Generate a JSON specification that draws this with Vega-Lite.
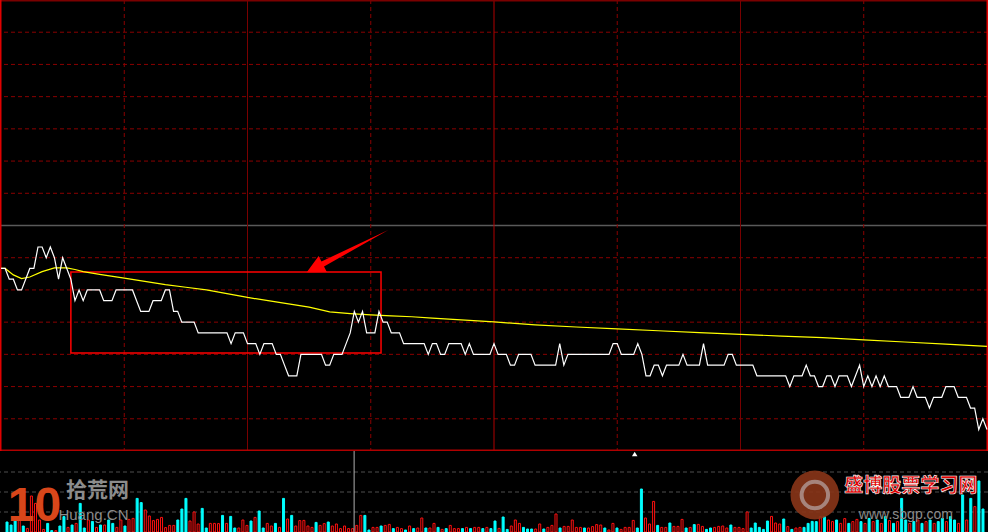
{
  "$schema": "https://vega.github.io/schema/vega-lite/v6.json",
  "background": "#000000",
  "padding": 0,
  "spacing": 0,
  "config": {"view": {"stroke": null}},
  "datasets": {
    "mins": [
      {"m":0,"p":9.96,"v":500,"s":"down"},{"m":1,"p":9.96,"v":350,"s":"down"},{"m":2,"p":9.95,"v":600,"s":"down"},{"m":3,"p":9.95,"v":680,"s":"up"},{"m":4,"p":9.94,"v":300,"s":"down"},
      {"m":5,"p":9.94,"v":180,"s":"up"},{"m":6,"p":9.95,"v":1800,"s":"up"},{"m":7,"p":9.96,"v":1430,"s":"up"},{"m":8,"p":9.96,"v":600,"s":"up"},{"m":9,"p":9.98,"v":130,"s":"up"},
      {"m":10,"p":9.98,"v":430,"s":"down"},{"m":11,"p":9.97,"v":70,"s":"down"},{"m":12,"p":9.98,"v":70,"s":"up"},{"m":13,"p":9.97,"v":300,"s":"down"},{"m":14,"p":9.95,"v":770,"s":"down"},
      {"m":15,"p":9.97,"v":230,"s":"up"},{"m":16,"p":9.96,"v":350,"s":"down"},{"m":17,"p":9.95,"v":430,"s":"up"},{"m":18,"p":9.93,"v":1430,"s":"down"},{"m":19,"p":9.94,"v":200,"s":"down"},
      {"m":20,"p":9.93,"v":600,"s":"up"},{"m":21,"p":9.94,"v":530,"s":"down"},{"m":22,"p":9.94,"v":230,"s":"up"},{"m":23,"p":9.94,"v":350,"s":"down"},{"m":24,"p":9.94,"v":350,"s":"up"},
      {"m":25,"p":9.93,"v":600,"s":"down"},{"m":26,"p":9.93,"v":430,"s":"down"},{"m":27,"p":9.93,"v":230,"s":"up"},{"m":28,"p":9.94,"v":600,"s":"up"},{"m":29,"p":9.94,"v":300,"s":"down"},
      {"m":30,"p":9.94,"v":630,"s":"up"},{"m":31,"p":9.94,"v":680,"s":"up"},{"m":32,"p":9.94,"v":1680,"s":"down"},{"m":33,"p":9.93,"v":1470,"s":"down"},{"m":34,"p":9.92,"v":1100,"s":"up"},
      {"m":35,"p":9.92,"v":800,"s":"up"},{"m":36,"p":9.92,"v":570,"s":"up"},{"m":37,"p":9.93,"v":630,"s":"up"},{"m":38,"p":9.93,"v":730,"s":"up"},{"m":39,"p":9.93,"v":220,"s":"up"},
      {"m":40,"p":9.94,"v":330,"s":"up"},{"m":41,"p":9.94,"v":330,"s":"up"},{"m":42,"p":9.92,"v":600,"s":"down"},{"m":43,"p":9.92,"v":1150,"s":"down"},{"m":44,"p":9.91,"v":1680,"s":"down"},
      {"m":45,"p":9.91,"v":550,"s":"up"},{"m":46,"p":9.91,"v":1000,"s":"up"},{"m":47,"p":9.91,"v":400,"s":"up"},{"m":48,"p":9.90,"v":1180,"s":"down"},{"m":49,"p":9.90,"v":200,"s":"down"},
      {"m":50,"p":9.90,"v":430,"s":"up"},{"m":51,"p":9.90,"v":430,"s":"up"},{"m":52,"p":9.90,"v":420,"s":"up"},{"m":53,"p":9.90,"v":830,"s":"down"},{"m":54,"p":9.90,"v":430,"s":"up"},
      {"m":55,"p":9.90,"v":780,"s":"down"},{"m":56,"p":9.89,"v":200,"s":"down"},{"m":57,"p":9.90,"v":200,"s":"up"},{"m":58,"p":9.90,"v":600,"s":"up"},{"m":59,"p":9.90,"v":330,"s":"up"},
      {"m":60,"p":9.89,"v":550,"s":"down"},{"m":61,"p":9.89,"v":730,"s":"up"},{"m":62,"p":9.89,"v":1050,"s":"down"},{"m":63,"p":9.88,"v":200,"s":"down"},{"m":64,"p":9.89,"v":430,"s":"up"},
      {"m":65,"p":9.89,"v":300,"s":"up"},{"m":66,"p":9.89,"v":430,"s":"down"},{"m":67,"p":9.88,"v":230,"s":"up"},{"m":68,"p":9.88,"v":1680,"s":"down"},{"m":69,"p":9.87,"v":650,"s":"up"},
      {"m":70,"p":9.86,"v":830,"s":"down"},{"m":71,"p":9.86,"v":300,"s":"up"},{"m":72,"p":9.86,"v":570,"s":"up"},{"m":73,"p":9.88,"v":580,"s":"up"},{"m":74,"p":9.88,"v":300,"s":"up"},
      {"m":75,"p":9.88,"v":230,"s":"up"},{"m":76,"p":9.88,"v":480,"s":"down"},{"m":77,"p":9.88,"v":330,"s":"up"},{"m":78,"p":9.88,"v":420,"s":"up"},{"m":79,"p":9.87,"v":500,"s":"down"},
      {"m":80,"p":9.87,"v":300,"s":"up"},{"m":81,"p":9.88,"v":400,"s":"up"},{"m":82,"p":9.88,"v":170,"s":"up"},{"m":83,"p":9.88,"v":300,"s":"up"},{"m":84,"p":9.89,"v":170,"s":"up"},
      {"m":85,"p":9.90,"v":170,"s":"up"},{"m":86,"p":9.92,"v":330,"s":"up"},{"m":87,"p":9.91,"v":830,"s":"up"},{"m":88,"p":9.92,"v":830,"s":"down"},{"m":89,"p":9.90,"v":100,"s":"down"},
      {"m":90,"p":9.90,"v":230,"s":"up"},{"m":91,"p":9.90,"v":230,"s":"up"},{"m":92,"p":9.92,"v":300,"s":"down"},{"m":93,"p":9.91,"v":330,"s":"up"},{"m":94,"p":9.91,"v":380,"s":"up"},
      {"m":95,"p":9.90,"v":170,"s":"down"},{"m":96,"p":9.90,"v":230,"s":"up"},{"m":97,"p":9.90,"v":170,"s":"up"},{"m":98,"p":9.89,"v":100,"s":"down"},{"m":99,"p":9.89,"v":300,"s":"up"},
      {"m":100,"p":9.89,"v":170,"s":"down"},{"m":101,"p":9.89,"v":200,"s":"up"},{"m":102,"p":9.89,"v":700,"s":"up"},{"m":103,"p":9.89,"v":200,"s":"down"},{"m":104,"p":9.88,"v":200,"s":"up"},
      {"m":105,"p":9.89,"v":430,"s":"up"},{"m":106,"p":9.89,"v":230,"s":"down"},{"m":107,"p":9.88,"v":130,"s":"up"},{"m":108,"p":9.88,"v":170,"s":"down"},{"m":109,"p":9.89,"v":330,"s":"up"},
      {"m":110,"p":9.89,"v":170,"s":"up"},{"m":111,"p":9.89,"v":170,"s":"up"},{"m":112,"p":9.89,"v":170,"s":"down"},{"m":113,"p":9.88,"v":230,"s":"up"},{"m":114,"p":9.89,"v":170,"s":"down"},
      {"m":115,"p":9.88,"v":230,"s":"up"},{"m":116,"p":9.88,"v":230,"s":"up"},{"m":117,"p":9.88,"v":170,"s":"down"},{"m":118,"p":9.88,"v":230,"s":"up"},{"m":119,"p":9.88,"v":170,"s":"down"},
      {"m":120,"p":9.89,"v":550,"s":"down"},{"m":121,"p":9.88,"v":180,"s":"up"},{"m":122,"p":9.88,"v":750,"s":"down"},{"m":123,"p":9.88,"v":130,"s":"down"},{"m":124,"p":9.87,"v":300,"s":"up"},
      {"m":125,"p":9.87,"v":600,"s":"up"},{"m":126,"p":9.88,"v":430,"s":"up"},{"m":127,"p":9.88,"v":230,"s":"down"},{"m":128,"p":9.88,"v":150,"s":"down"},{"m":129,"p":9.88,"v":150,"s":"down"},
      {"m":130,"p":9.87,"v":150,"s":"up"},{"m":131,"p":9.87,"v":400,"s":"up"},{"m":132,"p":9.87,"v":150,"s":"down"},{"m":133,"p":9.87,"v":230,"s":"up"},{"m":134,"p":9.87,"v":330,"s":"up"},
      {"m":135,"p":9.87,"v":900,"s":"up"},{"m":136,"p":9.89,"v":200,"s":"down"},{"m":137,"p":9.87,"v":280,"s":"up"},{"m":138,"p":9.88,"v":280,"s":"up"},{"m":139,"p":9.88,"v":600,"s":"up"},
      {"m":140,"p":9.88,"v":230,"s":"up"},{"m":141,"p":9.88,"v":230,"s":"up"},{"m":142,"p":9.88,"v":200,"s":"down"},{"m":143,"p":9.88,"v":200,"s":"up"},{"m":144,"p":9.88,"v":270,"s":"up"},
      {"m":145,"p":9.88,"v":370,"s":"up"},{"m":146,"p":9.88,"v":350,"s":"up"},{"m":147,"p":9.88,"v":200,"s":"down"},{"m":148,"p":9.88,"v":100,"s":"up"},{"m":149,"p":9.89,"v":430,"s":"up"},
      {"m":150,"p":9.89,"v":200,"s":"down"},{"m":151,"p":9.88,"v":130,"s":"up"},{"m":152,"p":9.88,"v":230,"s":"up"},{"m":153,"p":9.88,"v":230,"s":"up"},{"m":154,"p":9.88,"v":580,"s":"up"},
      {"m":155,"p":9.89,"v":200,"s":"down"},{"m":156,"p":9.88,"v":2150,"s":"down"},{"m":157,"p":9.86,"v":700,"s":"up"},{"m":158,"p":9.86,"v":400,"s":"up"},{"m":159,"p":9.87,"v":1530,"s":"up"},
      {"m":160,"p":9.87,"v":330,"s":"down"},{"m":161,"p":9.86,"v":230,"s":"up"},{"m":162,"p":9.87,"v":230,"s":"up"},{"m":163,"p":9.87,"v":450,"s":"down"},{"m":164,"p":9.87,"v":280,"s":"up"},
      {"m":165,"p":9.87,"v":280,"s":"up"},{"m":166,"p":9.88,"v":630,"s":"up"},{"m":167,"p":9.87,"v":200,"s":"down"},{"m":168,"p":9.87,"v":230,"s":"up"},{"m":169,"p":9.87,"v":370,"s":"down"},
      {"m":170,"p":9.87,"v":380,"s":"up"},{"m":171,"p":9.89,"v":280,"s":"up"},{"m":172,"p":9.87,"v":130,"s":"down"},{"m":173,"p":9.87,"v":200,"s":"down"},{"m":174,"p":9.87,"v":230,"s":"up"},
      {"m":175,"p":9.87,"v":280,"s":"up"},{"m":176,"p":9.87,"v":300,"s":"up"},{"m":177,"p":9.88,"v":200,"s":"up"},{"m":178,"p":9.88,"v":350,"s":"down"},{"m":179,"p":9.87,"v":230,"s":"up"},
      {"m":180,"p":9.87,"v":230,"s":"up"},{"m":181,"p":9.87,"v":170,"s":"up"},{"m":182,"p":9.87,"v":1000,"s":"up"},{"m":183,"p":9.87,"v":200,"s":"down"},{"m":184,"p":9.86,"v":450,"s":"down"},
      {"m":185,"p":9.86,"v":230,"s":"down"},{"m":186,"p":9.86,"v":130,"s":"down"},{"m":187,"p":9.86,"v":550,"s":"down"},{"m":188,"p":9.86,"v":780,"s":"up"},{"m":189,"p":9.86,"v":450,"s":"up"},
      {"m":190,"p":9.86,"v":400,"s":"up"},{"m":191,"p":9.86,"v":650,"s":"down"},{"m":192,"p":9.85,"v":270,"s":"up"},{"m":193,"p":9.86,"v":130,"s":"down"},{"m":194,"p":9.86,"v":200,"s":"up"},
      {"m":195,"p":9.86,"v":230,"s":"up"},{"m":196,"p":9.87,"v":230,"s":"down"},{"m":197,"p":9.86,"v":430,"s":"down"},{"m":198,"p":9.86,"v":530,"s":"down"},{"m":199,"p":9.85,"v":520,"s":"down"},
      {"m":200,"p":9.85,"v":770,"s":"up"},{"m":201,"p":9.86,"v":770,"s":"down"},{"m":202,"p":9.86,"v":600,"s":"up"},{"m":203,"p":9.85,"v":520,"s":"up"},{"m":204,"p":9.86,"v":600,"s":"down"},
      {"m":205,"p":9.86,"v":430,"s":"up"},{"m":206,"p":9.86,"v":670,"s":"up"},{"m":207,"p":9.85,"v":430,"s":"down"},{"m":208,"p":9.86,"v":520,"s":"up"},{"m":209,"p":9.87,"v":630,"s":"up"},
      {"m":210,"p":9.85,"v":520,"s":"down"},{"m":211,"p":9.86,"v":430,"s":"up"},{"m":212,"p":9.85,"v":680,"s":"down"},{"m":213,"p":9.86,"v":520,"s":"up"},{"m":214,"p":9.85,"v":600,"s":"down"},
      {"m":215,"p":9.86,"v":430,"s":"up"},{"m":216,"p":9.85,"v":770,"s":"down"},{"m":217,"p":9.85,"v":570,"s":"up"},{"m":218,"p":9.85,"v":430,"s":"down"},{"m":219,"p":9.84,"v":520,"s":"up"},
      {"m":220,"p":9.84,"v":1680,"s":"down"},{"m":221,"p":9.84,"v":600,"s":"down"},{"m":222,"p":9.85,"v":430,"s":"up"},{"m":223,"p":9.84,"v":520,"s":"down"},{"m":224,"p":9.84,"v":600,"s":"up"},
      {"m":225,"p":9.84,"v":430,"s":"down"},{"m":226,"p":9.83,"v":520,"s":"up"},{"m":227,"p":9.84,"v":600,"s":"down"},{"m":228,"p":9.84,"v":430,"s":"up"},{"m":229,"p":9.84,"v":520,"s":"down"},
      {"m":230,"p":9.85,"v":680,"s":"down"},{"m":231,"p":9.85,"v":520,"s":"up"},{"m":232,"p":9.85,"v":770,"s":"down"},{"m":233,"p":9.84,"v":600,"s":"down"},{"m":234,"p":9.84,"v":430,"s":"up"},
      {"m":235,"p":9.84,"v":1850,"s":"down"},{"m":236,"p":9.83,"v":600,"s":"up"},{"m":237,"p":9.83,"v":1680,"s":"down"},{"m":238,"p":9.81,"v":1270,"s":"up"},{"m":239,"p":9.82,"v":2550,"s":"down"},
      {"m":240,"p":9.81,"v":1150,"s":"down"}
    ],
    "avg": [
      {"m":0,"a":9.960},{"m":1,"a":9.960},{"m":3,"a":9.954},{"m":5,"a":9.9505},{"m":7,"a":9.952},{"m":10,"a":9.957},{"m":13,"a":9.9605},{"m":16,"a":9.9605},{"m":18,"a":9.959},{"m":20,"a":9.957},
      {"m":24,"a":9.9545},{"m":30,"a":9.951},{"m":35,"a":9.948},{"m":40,"a":9.945},{"m":45,"a":9.9425},{"m":50,"a":9.940},{"m":55,"a":9.9365},{"m":60,"a":9.933},{"m":65,"a":9.930},{"m":70,"a":9.927},
      {"m":75,"a":9.924},{"m":80,"a":9.9195},{"m":85,"a":9.918},{"m":90,"a":9.9167},{"m":95,"a":9.9158},{"m":100,"a":9.915},{"m":105,"a":9.9138},{"m":110,"a":9.9125},{"m":115,"a":9.9115},{"m":120,"a":9.9102},
      {"m":130,"a":9.9075},{"m":140,"a":9.9055},{"m":150,"a":9.9038},{"m":160,"a":9.902},{"m":170,"a":9.9003},{"m":180,"a":9.8987},{"m":190,"a":9.897},{"m":200,"a":9.8955},{"m":210,"a":9.8935},{"m":220,"a":9.8915},
      {"m":230,"a":9.8895},{"m":240,"a":9.8875}
    ],
    "hgrid": [{"p":9.82},{"p":9.85},{"p":9.88},{"p":9.91},{"p":9.94},{"p":9.97},{"p":10.03},{"p":10.06},{"p":10.09},{"p":10.12},{"p":10.15},{"p":10.18}],
    "vgrid": [{"m":30,"kind":"dash"},{"m":90,"kind":"dash"},{"m":150,"kind":"dash"},{"m":210,"kind":"dash"},{"m":60,"kind":"solid"},{"m":180,"kind":"solid"},{"m":120,"kind":"noon"}],
    "hborder": [{"p":10.21,"e":"top"},{"p":9.79,"e":"bottom"}],
    "vborder": [{"m":-0.25,"e":"left"},{"m":240.25,"e":"right"}]
  },
  "vconcat": [
    {
      "width": 988,
      "height": 451,
      "layer": [
        {
          "data": {"name": "hgrid"},
          "mark": {"type": "rule", "color": "#8a0000", "strokeDash": [4, 3], "strokeWidth": 1, "clip": true},
          "encoding": {"y": {"field": "p", "type": "quantitative", "scale": {"domain": [9.79, 10.21], "nice": false, "zero": false}, "axis": null}}
        },
        {
          "data": {"values": [{"p": 10.0}]},
          "mark": {"type": "rule", "color": "#5a5a5a", "strokeWidth": 1.5, "clip": true},
          "encoding": {"y": {"field": "p", "type": "quantitative", "scale": {"domain": [9.79, 10.21], "nice": false, "zero": false}, "axis": null}}
        },
        {
          "data": {"name": "vgrid"},
          "transform": [{"filter": "datum.kind == 'dash'"}],
          "mark": {"type": "rule", "color": "#8a0000", "strokeDash": [4, 3], "strokeWidth": 1, "clip": true},
          "encoding": {"x": {"field": "m", "type": "quantitative", "scale": {"domain": [-0.25, 240.25], "nice": false, "zero": false}, "axis": null}}
        },
        {
          "data": {"name": "vgrid"},
          "transform": [{"filter": "datum.kind != 'dash'"}],
          "mark": {"type": "rule", "strokeWidth": 1, "clip": true},
          "encoding": {
            "x": {"field": "m", "type": "quantitative", "scale": {"domain": [-0.25, 240.25], "nice": false, "zero": false}, "axis": null},
            "color": {"field": "kind", "type": "nominal", "scale": {"domain": ["solid", "noon"], "range": ["#7a0000", "#b00000"]}, "legend": null}
          }
        },
        {
          "data": {"name": "hborder"},
          "mark": {"type": "rule", "strokeWidth": 3, "clip": true},
          "encoding": {
            "y": {"field": "p", "type": "quantitative", "scale": {"domain": [9.79, 10.21], "nice": false, "zero": false}, "axis": null},
            "color": {"field": "e", "type": "nominal", "scale": {"domain": ["top", "bottom"], "range": ["#ff0000", "#c80000"]}, "legend": null}
          }
        },
        {
          "data": {"name": "vborder"},
          "mark": {"type": "rule", "strokeWidth": 3, "color": "#e00000", "clip": true},
          "encoding": {
            "x": {"field": "m", "type": "quantitative", "scale": {"domain": [-0.25, 240.25], "nice": false, "zero": false}, "axis": null}
          }
        },
        {
          "data": {"values": [{"m1": 17.0, "m2": 92.5, "p1": 9.9567, "p2": 9.8813}]},
          "mark": {"type": "rect", "fill": null, "fillOpacity": 0, "stroke": "#ff0000", "strokeWidth": 1.5, "clip": true},
          "encoding": {
            "x": {"field": "m1", "type": "quantitative", "scale": {"domain": [-0.25, 240.25], "nice": false, "zero": false}, "axis": null},
            "x2": {"field": "m2"},
            "y": {"field": "p1", "type": "quantitative", "scale": {"domain": [9.79, 10.21], "nice": false, "zero": false}, "axis": null},
            "y2": {"field": "p2"}
          }
        },
        {
          "data": {"name": "avg"},
          "mark": {"type": "line", "color": "#ffff00", "strokeWidth": 1.2, "clip": true},
          "encoding": {
            "x": {"field": "m", "type": "quantitative", "scale": {"domain": [-0.25, 240.25], "nice": false, "zero": false}, "axis": null},
            "y": {"field": "a", "type": "quantitative", "scale": {"domain": [9.79, 10.21], "nice": false, "zero": false}, "axis": null}
          }
        },
        {
          "data": {"name": "mins"},
          "mark": {"type": "line", "color": "#ffffff", "strokeWidth": 1.2, "clip": true},
          "encoding": {
            "x": {"field": "m", "type": "quantitative", "scale": {"domain": [-0.25, 240.25], "nice": false, "zero": false}, "axis": null},
            "y": {"field": "p", "type": "quantitative", "scale": {"domain": [9.79, 10.21], "nice": false, "zero": false}, "axis": null}
          }
        },
        {
          "data": {"values": [{"m": 84.35, "p": 9.9761}]},
          "mark": {"type": "point", "filled": true, "color": "#ff0000", "opacity": 1, "strokeWidth": 0, "size": 7056, "clip": true,
                   "shape": "M-0.971,0.504L-0.688,0.115L-0.621,0.246L0.971,-0.504L-0.560,0.365L-0.493,0.496Z"},
          "encoding": {
            "x": {"field": "m", "type": "quantitative", "scale": {"domain": [-0.25, 240.25], "nice": false, "zero": false}, "axis": null},
            "y": {"field": "p", "type": "quantitative", "scale": {"domain": [9.79, 10.21], "nice": false, "zero": false}, "axis": null}
          }
        }
      ]
    },
    {
      "width": 988,
      "height": 81,
      "layer": [
        {
          "data": {"values": [{"v": 1000}, {"v": 2000}, {"v": 3000}]},
          "mark": {"type": "rule", "color": "#4e4e4e", "strokeDash": [4, 3], "strokeWidth": 1, "clip": true},
          "encoding": {"y": {"field": "v", "type": "quantitative", "scale": {"domain": [0, 4050], "nice": false}, "axis": null}}
        },
        {
          "data": {"name": "mins"},
          "mark": {"type": "bar", "width": 2, "strokeWidth": 1, "clip": true},
          "encoding": {
            "x": {"field": "m", "type": "quantitative", "scale": {"domain": [-0.25, 240.25], "nice": false, "zero": false}, "axis": null},
            "xOffset": {"value": 1},
            "y": {"field": "v", "type": "quantitative", "scale": {"domain": [0, 4050], "nice": false}, "axis": null},
            "fill": {"field": "s", "type": "nominal", "scale": {"domain": ["up", "down"], "range": ["#000000", "#00ffff"]}, "legend": null},
            "stroke": {"field": "s", "type": "nominal", "scale": {"domain": ["up", "down"], "range": ["#ff1010", "#00ffff"]}, "legend": null}
          }
        },
        {
          "data": {"values": [{"m": 85.6}]},
          "mark": {"type": "rule", "color": "#b0b0b0", "strokeWidth": 1, "clip": true},
          "encoding": {"x": {"field": "m", "type": "quantitative", "scale": {"domain": [-0.25, 240.25], "nice": false, "zero": false}, "axis": null}}
        },
        {
          "data": {"values": [{"m": 154.6, "v": 3900}]},
          "mark": {"type": "point", "shape": "triangle-up", "filled": true, "color": "#ffffff", "opacity": 1, "size": 30, "clip": true},
          "encoding": {
            "x": {"field": "m", "type": "quantitative", "scale": {"domain": [-0.25, 240.25], "nice": false, "zero": false}, "axis": null},
            "y": {"field": "v", "type": "quantitative", "scale": {"domain": [0, 4050], "nice": false}, "axis": null}
          }
        },
        {
          "data": {"values": [{"m": 198.9, "v": 1850, "r": "outer"}, {"m": 198.9, "v": 1850, "r": "inner"}]},
          "layer": [
            {
              "transform": [{"filter": "datum.r == 'outer'"}],
              "mark": {"type": "point", "shape": "circle", "filled": true, "color": "#8a3518", "opacity": 0.9, "size": 2376, "clip": true},
              "encoding": {
                "x": {"field": "m", "type": "quantitative", "scale": {"domain": [-0.25, 240.25], "nice": false, "zero": false}, "axis": null},
                "y": {"field": "v", "type": "quantitative", "scale": {"domain": [0, 4050], "nice": false}, "axis": null}
              }
            },
            {
              "transform": [{"filter": "datum.r == 'inner'"}],
              "mark": {"type": "point", "shape": "circle", "filled": false, "stroke": "#b8a8a8", "strokeWidth": 4, "opacity": 0.7, "size": 700, "clip": true},
              "encoding": {
                "x": {"field": "m", "type": "quantitative", "scale": {"domain": [-0.25, 240.25], "nice": false, "zero": false}, "axis": null},
                "y": {"field": "v", "type": "quantitative", "scale": {"domain": [0, 4050], "nice": false}, "axis": null}
              }
            }
          ]
        },
        {
          "data": {"values": [
            {"m": 7.0, "v": 50, "t": "10", "w": "logo"},
            {"m": 22.5, "v": 2050, "t": "拾荒网", "w": "cn"},
            {"m": 21.5, "v": 850, "t": "Huang.CN", "w": "en"},
            {"m": 222.5, "v": 2300, "t": "盛博股票学习网", "w": "sb"},
            {"m": 221.3, "v": 850, "t": "www.sbgp.com", "w": "url"}
          ]},
          "layer": [
            {
              "transform": [{"filter": "datum.w == 'logo'"}],
              "mark": {"type": "text", "font": "Liberation Sans", "fontWeight": "bold", "fontSize": 48, "color": "#d8461a", "baseline": "bottom", "align": "center", "clip": true},
              "encoding": {
                "x": {"field": "m", "type": "quantitative", "scale": {"domain": [-0.25, 240.25], "nice": false, "zero": false}, "axis": null},
                "y": {"field": "v", "type": "quantitative", "scale": {"domain": [0, 4050], "nice": false}, "axis": null},
                "text": {"field": "t"}
              }
            },
            {
              "transform": [{"filter": "datum.w == 'cn'"}],
              "mark": {"type": "text", "font": "Noto Sans CJK SC", "fontWeight": "bold", "fontSize": 21, "color": "#8c8c8c", "baseline": "middle", "align": "center", "clip": true},
              "encoding": {
                "x": {"field": "m", "type": "quantitative", "scale": {"domain": [-0.25, 240.25], "nice": false, "zero": false}, "axis": null},
                "y": {"field": "v", "type": "quantitative", "scale": {"domain": [0, 4050], "nice": false}, "axis": null},
                "text": {"field": "t"}
              }
            },
            {
              "transform": [{"filter": "datum.w == 'en'"}],
              "mark": {"type": "text", "font": "Liberation Sans", "fontSize": 15, "color": "#8c8c8c", "baseline": "middle", "align": "center", "clip": true},
              "encoding": {
                "x": {"field": "m", "type": "quantitative", "scale": {"domain": [-0.25, 240.25], "nice": false, "zero": false}, "axis": null},
                "y": {"field": "v", "type": "quantitative", "scale": {"domain": [0, 4050], "nice": false}, "axis": null},
                "text": {"field": "t"}
              }
            },
            {
              "transform": [{"filter": "datum.w == 'sb'"}],
              "mark": {"type": "text", "font": "Noto Sans CJK SC", "fontWeight": "bold", "fontSize": 19, "fill": "#e00000", "stroke": "#ffffff", "strokeWidth": 0.6, "baseline": "middle", "align": "center", "clip": true},
              "encoding": {
                "x": {"field": "m", "type": "quantitative", "scale": {"domain": [-0.25, 240.25], "nice": false, "zero": false}, "axis": null},
                "y": {"field": "v", "type": "quantitative", "scale": {"domain": [0, 4050], "nice": false}, "axis": null},
                "text": {"field": "t"}
              }
            },
            {
              "transform": [{"filter": "datum.w == 'url'"}],
              "mark": {"type": "text", "font": "Liberation Sans", "fontSize": 14, "color": "#8c8c8c", "baseline": "middle", "align": "center", "clip": true},
              "encoding": {
                "x": {"field": "m", "type": "quantitative", "scale": {"domain": [-0.25, 240.25], "nice": false, "zero": false}, "axis": null},
                "y": {"field": "v", "type": "quantitative", "scale": {"domain": [0, 4050], "nice": false}, "axis": null},
                "text": {"field": "t"}
              }
            }
          ]
        }
      ]
    }
  ]
}
